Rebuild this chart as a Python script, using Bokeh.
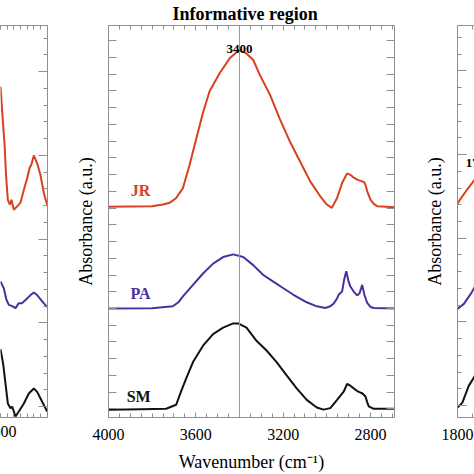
from bokeh.plotting import figure
from bokeh.layouts import row
from bokeh.models import Range1d, FixedTicker, LinearAxis, Label, Span, Title
from bokeh.embed import file_html
from bokeh.resources import INLINE

# ---------------- data (wavenumber in cm-1, absorbance in offset arbitrary units) ----------------
# Centre panel: informative region
JR_WN = [4000, 3900, 3800, 3751, 3720, 3690, 3659, 3629, 3598, 3567, 3537, 3491, 3445, 3420, 3401,
         3368, 3337, 3307, 3261, 3215, 3168, 3122, 3076, 3030, 3000, 2977, 2953, 2930, 2907, 2892,
         2877, 2858, 2838, 2830, 2823, 2815, 2800, 2785, 2769, 2685]
JR_ABS = [11.82, 11.84, 11.86, 11.96, 12.06, 12.35, 12.94, 14.31, 15.88, 17.45, 18.72, 19.80, 20.69, 20.98, 21.18,
          20.98, 20.59, 19.70, 18.53, 17.06, 15.69, 14.51, 13.34, 12.45, 11.96, 11.76, 12.35, 13.24, 13.82, 13.73,
          13.57, 13.43, 13.34, 13.30, 13.14, 12.75, 12.25, 12.00, 11.86, 11.80]

PA_WN = [4000, 3800, 3705, 3680, 3659, 3613, 3567, 3521, 3475, 3429, 3383, 3337, 3291, 3245, 3199,
         3153, 3092, 3046, 3007, 2984, 2969, 2953, 2946, 2930, 2921, 2911, 2900, 2892, 2877, 2861,
         2850, 2838, 2828, 2815, 2800, 2785, 2685]
PA_ABS = [5.75, 5.77, 5.88, 6.12, 6.47, 7.16, 7.84, 8.43, 8.82, 8.98, 8.82, 8.34, 7.75, 7.35, 6.96,
          6.57, 6.12, 5.88, 5.78, 5.88, 6.04, 6.35, 6.57, 6.76, 7.45, 7.98, 7.35, 7.06, 6.76, 6.53,
          6.66, 7.16, 6.57, 6.08, 5.84, 5.78, 5.75]

SM_WN = [4000, 3850, 3736, 3690, 3668, 3644, 3613, 3567, 3521, 3475, 3429, 3406, 3368, 3322, 3276,
         3230, 3184, 3138, 3092, 3046, 3015, 2984, 2953, 2923, 2907, 2892, 2877, 2861, 2845, 2838,
         2823, 2815, 2808, 2785, 2685]
SM_ABS = [-0.29, -0.26, -0.24, 0.00, 0.78, 1.57, 2.55, 3.53, 4.22, 4.61, 4.86, 4.86, 4.61, 3.82, 3.24,
          2.55, 1.76, 0.98, 0.29, -0.16, -0.29, -0.20, 0.29, 0.78, 1.24, 1.14, 0.98, 0.82, 0.72, 0.69,
          0.49, 0.16, -0.10, -0.24, -0.24]

# Left panel (only its low-wavenumber end is visible)
L_JR_WN = [1000, 975, 940, 915, 890, 860, 835, 800, 750, 700, 650, 600, 560, 540, 500, 450, 400, 350, 300]
L_JR_ABS = [19.12, 17.65, 15.71, 13.71, 12.35, 12.06, 12.35, 11.76, 11.96, 12.18, 12.94, 13.65, 14.29,
            14.41, 15.00, 14.53, 13.82, 12.76, 12.06]
L_PA_WN = [1000, 950, 910, 875, 825, 775, 725, 675, 625, 550, 500, 450, 375, 300]
L_PA_ABS = [7.47, 7.06, 6.37, 6.08, 6.00, 5.88, 6.18, 6.18, 6.37, 6.66, 6.82, 6.66, 6.28, 5.94]
L_SM_WN = [1000, 960, 925, 890, 850, 825, 775, 725, 650, 575, 500, 450, 375, 300]
L_SM_ABS = [3.43, 2.55, 1.37, 0.19, -0.10, 0.00, -0.59, -0.29, 0.19, 0.78, 1.08, 0.88, 0.29, -0.29]

# Right panel (only its high-wavenumber start is visible)
R_JR_WN = [1800, 1790, 1767, 1747, 1730]
R_JR_ABS = [12.06, 12.35, 12.94, 13.41, 13.90]
R_PA_WN = [1800, 1779, 1757, 1744, 1730]
R_PA_ABS = [5.78, 6.08, 6.66, 7.06, 7.50]
R_SM_WN = [1800, 1784, 1763, 1747, 1730]
R_SM_ABS = [-0.12, 0.18, 1.18, 1.65, 2.20]

SERIES = ["JR", "PA", "SM"]
PEAK_MAIN = 3400
PEAK_RIGHT = 1730
CENTER_X_LABELS = [4000, 3600, 3200, 2800]
LEFT_X_LABELS = [1000, 2000, 3000, 4000]
RIGHT_X_LABELS = [1800, 1400, 1000, 600]
TITLE = "Informative region"
X_TITLE = "Wavenumber (cm\u207b\u00b9)"
Y_TITLE = "Absorbance (a.u.)"

# ---------------- style ----------------
RED = "#d8401f"
PURPLE = "#4b2f9f"
BLACK = "#111111"
COLORS = {"JR": RED, "PA": PURPLE, "SM": BLACK}
GRAY = "#8f8f8f"
SERIF = "Liberation Serif"
H = 474


def style_axis(ax, major, minor, major_len, minor_len, labels, standoff=1):
    ax.ticker = FixedTicker(ticks=major, minor_ticks=minor)
    ax.axis_line_color = GRAY
    ax.major_tick_line_color = GRAY
    ax.minor_tick_line_color = GRAY
    ax.major_tick_in = major_len
    ax.major_tick_out = 0
    ax.minor_tick_in = minor_len
    ax.minor_tick_out = 0
    if labels:
        ax.major_label_text_font = SERIF
        ax.major_label_text_font_size = "16px"
        ax.major_label_text_color = "black"
        ax.major_label_standoff = standoff
    else:
        ax.major_label_text_font_size = "0px"
        ax.major_label_text_color = None
        ax.major_label_standoff = 0
    ax.axis_label_text_font = SERIF
    ax.axis_label_text_font_size = "18px"
    ax.axis_label_text_font_style = "normal"
    ax.axis_label_text_color = "black"


def base_fig(width, x_range, y_range, b_left, b_right, b_top, b_bottom, y_loc="left"):
    p = figure(width=width, height=H, x_range=x_range, y_range=y_range,
               output_backend="svg", toolbar_location=None, y_axis_location=y_loc,
               min_border_left=b_left, min_border_right=b_right,
               min_border_top=b_top, min_border_bottom=b_bottom)
    p.outline_line_color = None
    p.xgrid.visible = False
    p.ygrid.visible = False
    p.background_fill_color = "white"
    p.border_fill_color = "white"
    return p


side_y_major = [0, 5, 10, 15, 20]
side_y_minor = list(range(0, 23))

# ---------- left panel (its left part lies beyond the page edge, as in the cropped original) ----------
left = base_fig(80, Range1d(1000, 295), Range1d(-0.65, 22.76), 20, 13, 23, 53, y_loc="right")
left.styles = {"margin-left": "-20px"}
lx_minor = list(range(300, 1001, 100))
style_axis(left.xaxis[0], LEFT_X_LABELS, lx_minor, 4, 4, True, standoff=8)
top_l = LinearAxis()
left.add_layout(top_l, "above")
style_axis(top_l, LEFT_X_LABELS, lx_minor, 4, 4, False)
style_axis(left.yaxis[0], side_y_major, side_y_minor, 9, 4, False)
for name, wn, ab in (("JR", L_JR_WN, L_JR_ABS), ("PA", L_PA_WN, L_PA_ABS), ("SM", L_SM_WN, L_SM_ABS)):
    left.line(wn, ab, line_color=COLORS[name], line_width=2)

# ---------- centre panel ----------
center = base_fig(360, Range1d(4000, 2690), Range1d(-0.76, 22.65), 48, 26, 25, 51)
cx_minor = list(range(2700, 4001, 50))
cy_ticks = [k - 0.25 for k in range(0, 23)]
style_axis(center.xaxis[0], CENTER_X_LABELS, cx_minor, 5, 4, True, standoff=11)
center.xaxis[0].axis_label = X_TITLE
center.xaxis[0].axis_label_standoff = 9
top_c = LinearAxis()
center.add_layout(top_c, "above")
style_axis(top_c, CENTER_X_LABELS, cx_minor, 5, 4, False)
style_axis(center.yaxis[0], cy_ticks, [], 8, 0, False)
center.yaxis[0].axis_label = Y_TITLE
center.yaxis[0].axis_label_standoff = 13
right_c = LinearAxis()
center.add_layout(right_c, "right")
style_axis(right_c, cy_ticks, [], 8, 0, False)
center.add_layout(Title(text=TITLE, align="left", offset=64, standoff=0, vertical_align="top",
                        text_font=SERIF, text_font_size="18px", text_font_style="bold",
                        text_color="black"), "above")

center.add_layout(Span(location=PEAK_MAIN, dimension="height", line_color="#9a9a9a", line_width=1))
for name, wn, ab in (("JR", JR_WN, JR_ABS), ("PA", PA_WN, PA_ABS), ("SM", SM_WN, SM_ABS)):
    center.line(wn, ab, line_color=COLORS[name], line_width=2)

label_pos = {"JR": (3853, 12.82), "PA": (3853, 6.65), "SM": (3862, 0.47)}
for name in SERIES:
    lx, ly = label_pos[name]
    center.add_layout(Label(x=lx, y=ly, text=name, text_align="center", text_baseline="middle",
                            text_font=SERIF, text_font_size="16px", text_font_style="bold",
                            text_color=COLORS[name]))
center.add_layout(Label(x=PEAK_MAIN, y=21.25, text=str(PEAK_MAIN), text_align="center",
                        text_baseline="alphabetic", text_font=SERIF, text_font_size="13px",
                        text_font_style="bold", text_color="black"))

# ---------- right panel ----------
right = base_fig(54, Range1d(1800, 1744), Range1d(-0.71, 22.71), 37, 0, 24, 52)
rx_minor = list(range(600, 1801, 50))
style_axis(right.xaxis[0], RIGHT_X_LABELS, rx_minor, 5, 4, True, standoff=11)
top_r = LinearAxis()
right.add_layout(top_r, "above")
style_axis(top_r, RIGHT_X_LABELS, rx_minor, 5, 4, False)
style_axis(right.yaxis[0], side_y_major, side_y_minor, 9, 4, False)
right.yaxis[0].axis_label = Y_TITLE
right.yaxis[0].axis_label_standoff = 13
for name, wn, ab in (("JR", R_JR_WN, R_JR_ABS), ("PA", R_PA_WN, R_PA_ABS), ("SM", R_SM_WN, R_SM_ABS)):
    right.line(wn, ab, line_color=COLORS[name], line_width=2)
right.add_layout(Label(x=PEAK_RIGHT, y=14.5, text=str(PEAK_RIGHT), text_align="center",
                       text_baseline="middle", text_font=SERIF, text_font_size="13px",
                       text_font_style="bold", text_color="black"))

layout = row(left, center, right)
open("out.html", "w").write(file_html(layout, INLINE))
